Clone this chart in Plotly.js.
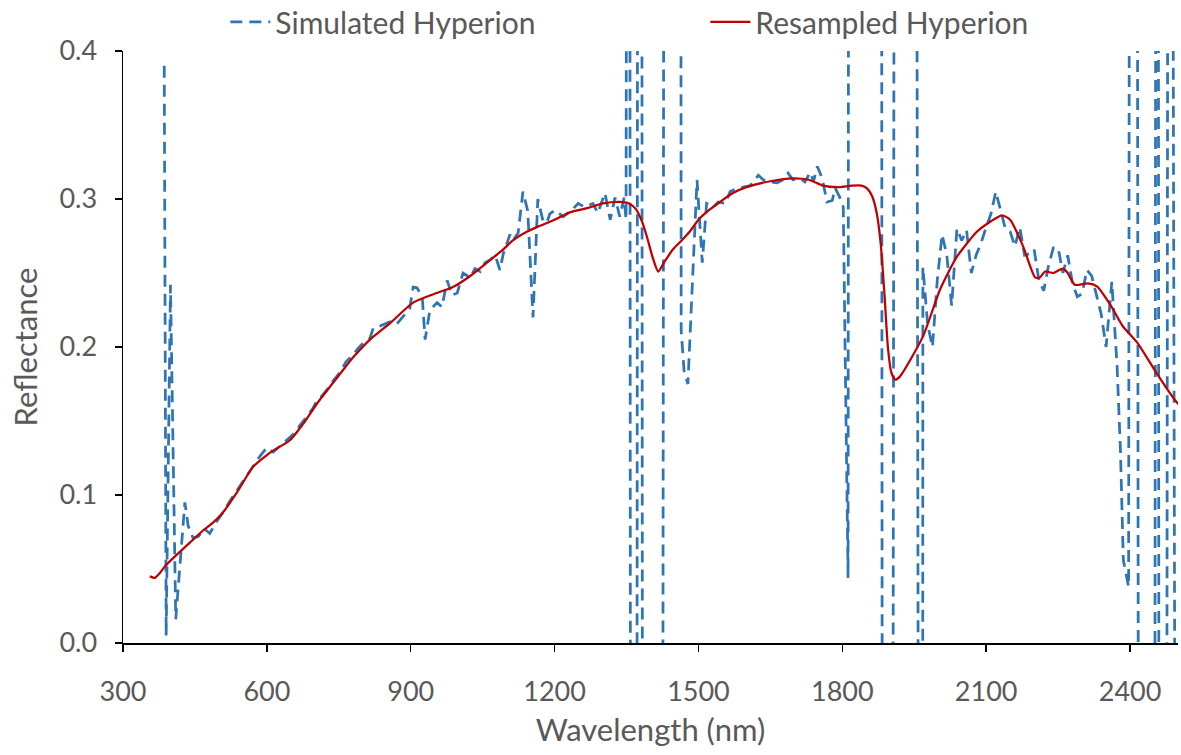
<!DOCTYPE html>
<html>
<head>
<meta charset="utf-8">
<script src="https://cdn.plot.ly/plotly-3.0.1.min.js"></script>
<style>
  html, body { margin: 0; padding: 0; background: #ffffff; }
  #chart { width: 1181px; height: 755px; }
</style>
</head>
<body>
<div id="chart"></div>
<script>
// Simulated Hyperion (dashed blue). Values beyond the axis range (water-absorption bands) are off-scale.
const simWavelength = [
  386, 390, 399, 410, 429, 436, 446, 457, 470, 481, 493, 508, 525, 544, 560, 571, 585, 600, 613, 627,
  642, 655, 669, 684, 695, 705, 715, 725, 738, 753, 765, 778, 790, 802, 815, 822, 832, 842, 857, 871,
  882, 892, 898, 905, 913, 924, 930, 940, 955, 965, 976, 986, 997, 1009, 1024, 1034, 1045, 1055, 1066, 1076,
  1086, 1093, 1107, 1113, 1124, 1134, 1144, 1155, 1165, 1176, 1184, 1190, 1201, 1218, 1236, 1249, 1263, 1280, 1290, 1305,
  1316, 1326, 1336, 1345, 1349, 1355, 1361, 1369, 1375, 1380, 1386, 1396, 1406, 1416, 1421, 1431, 1441, 1451, 1461, 1464,
  1470, 1478, 1497, 1508, 1517, 1531, 1541, 1556, 1566, 1580, 1593, 1608, 1625, 1635, 1649, 1664, 1677, 1687, 1697, 1712,
  1722, 1733, 1740, 1748, 1758, 1768, 1779, 1785, 1795, 1802, 1812, 1815, 1830, 1850, 1870, 1880, 1886, 1896, 1900, 1912,
  1922, 1932, 1942, 1950, 1966, 1968, 1978, 1988, 1998, 2008, 2018, 2028, 2039, 2049, 2059, 2069, 2079, 2089, 2099, 2110,
  2120, 2130, 2140, 2150, 2160, 2170, 2180, 2190, 2200, 2210, 2220, 2230, 2240, 2250, 2260, 2270, 2280, 2290, 2300, 2310,
  2320, 2330, 2340, 2350, 2362, 2373, 2380, 2386, 2397, 2402, 2412, 2422, 2432, 2447, 2457, 2463, 2472, 2482, 2494, 2504
];
const simReflectance = [
  0.390, 0.005, 0.242, 0.016, 0.095, 0.079, 0.071, 0.072, 0.077, 0.074, 0.081, 0.088, 0.097, 0.106, 0.114, 0.119, 0.126, 0.132, 0.129, 0.133,
  0.137, 0.141, 0.147, 0.153, 0.158, 0.164, 0.167, 0.171, 0.177, 0.183, 0.190, 0.194, 0.199, 0.203, 0.206, 0.213, 0.2135, 0.215, 0.217, 0.2155,
  0.220, 0.224, 0.226, 0.2405, 0.240, 0.234, 0.205, 0.225, 0.230, 0.227, 0.245, 0.235, 0.2365, 0.250, 0.247, 0.253, 0.251, 0.257, 0.259, 0.262,
  0.252, 0.263, 0.276, 0.272, 0.277, 0.305, 0.292, 0.220, 0.300, 0.285, 0.284, 0.290, 0.2925, 0.288, 0.2925, 0.297, 0.2945, 0.297, 0.2905, 0.304,
  0.286, 0.301, 0.288, 0.301, 0.286, 1.5, -1.5, -1.5, 1.5, 1.5, -1.5, -1.5, -1.5, -1.5, -1.5, 1.5, 1.5, 1.5, 1.5, 0.211,
  0.184, 0.175, 0.313, 0.257, 0.297, 0.2945, 0.298, 0.297, 0.305, 0.307, 0.308, 0.309, 0.316, 0.313, 0.3115, 0.311, 0.313, 0.3175, 0.313, 0.314,
  0.3115, 0.318, 0.312, 0.322, 0.314, 0.298, 0.299, 0.3075, 0.301, 0.2945, 0.044, 1.5, 1.5, 1.5, 1.5, 1.5, -1.5, -1.5, -1.5, 1.5,
  1.5, 1.5, 1.5, 1.5, -1.5, 0.254, 0.215, 0.200, 0.245, 0.276, 0.262, 0.228, 0.280, 0.272, 0.279, 0.250, 0.262, 0.270, 0.280, 0.290,
  0.305, 0.292, 0.280, 0.278, 0.268, 0.281, 0.262, 0.263, 0.266, 0.245, 0.238, 0.255, 0.267, 0.267, 0.250, 0.262, 0.243, 0.234, 0.236, 0.252,
  0.248, 0.235, 0.222, 0.200, 0.244, 0.187, 0.130, 0.056, 0.038, 1.5, 1.5, -1.5, -1.5, -1.5, 1.5, -1.5, -1.5, 1.5, -1.5, -1.5
];

// Resampled Hyperion (solid red)
const resWavelength = [
  356, 366, 376, 388, 410, 440, 467, 490, 508, 540, 571, 600, 613, 648, 680, 705, 753, 780, 815, 860,
  905, 950, 988, 1024, 1059, 1093, 1113, 1143, 1163, 1200, 1232, 1270, 1301, 1336, 1355, 1370, 1382, 1393, 1405, 1416,
  1430, 1447, 1465, 1482, 1500, 1520, 1545, 1572, 1600, 1650, 1697, 1730, 1760, 1790, 1820, 1840, 1852, 1862, 1872, 1880,
  1888, 1895, 1902, 1910, 1920, 1968, 2004, 2039, 2081, 2110, 2133, 2150, 2177, 2202, 2212, 2223, 2240, 2260, 2270, 2285,
  2312, 2331, 2360, 2385, 2415, 2456, 2494, 2505
];
const resReflectance = [
  0.045, 0.044, 0.047, 0.052, 0.059, 0.068, 0.076, 0.082, 0.088, 0.103, 0.119, 0.127, 0.130, 0.137, 0.150, 0.162, 0.182, 0.193, 0.205, 0.217,
  0.230, 0.236, 0.2405, 0.248, 0.257, 0.266, 0.272, 0.278, 0.281, 0.286, 0.291, 0.294, 0.297, 0.298, 0.297, 0.293, 0.285, 0.274, 0.260, 0.251,
  0.258, 0.266, 0.272, 0.278, 0.286, 0.292, 0.298, 0.304, 0.308, 0.312, 0.314, 0.313, 0.309, 0.308, 0.309, 0.309, 0.307, 0.302, 0.290, 0.270,
  0.235, 0.200, 0.183, 0.178, 0.180, 0.207, 0.239, 0.261, 0.278, 0.285, 0.289, 0.286, 0.268, 0.247, 0.247, 0.251, 0.250, 0.253, 0.250, 0.242,
  0.243, 0.241, 0.228, 0.214, 0.203, 0.182, 0.164, 0.160
];

const xTickValues = [300, 600, 900, 1200, 1500, 1800, 2100, 2400];
const yTickValues = [0.0, 0.1, 0.2, 0.3, 0.4];

const FONT = 'Lato, "Open Sans", sans-serif';
const GREY = '#595959';

const traces = [
  {
    x: simWavelength, y: simReflectance, type: 'scatter', mode: 'lines',
    name: 'Simulated Hyperion', legend: 'legend',
    line: { color: '#2E75B6', width: 2.75, dash: '12px,7px' },
    hoverinfo: 'x+y'
  },
  {
    x: resWavelength, y: resReflectance, type: 'scatter', mode: 'lines',
    name: 'Resampled Hyperion', legend: 'legend2',
    line: { color: '#C00000', width: 2.25, shape: 'spline', smoothing: 0.6 },
    hoverinfo: 'x+y'
  }
];

const legendBase = {
  orientation: 'h', xanchor: 'left', y: 1.049, yanchor: 'middle',
  font: { family: FONT, size: 30, color: GREY },
  itemwidth: 40,
  bgcolor: 'rgba(0,0,0,0)', borderwidth: 0
};

const layout = {
  width: 1181, height: 755,
  paper_bgcolor: '#ffffff', plot_bgcolor: '#ffffff',
  margin: { l: 123, r: 3, t: 51, b: 112, autoexpand: false },
  font: { family: FONT, color: GREY },
  showlegend: true,
  legend: Object.assign({}, legendBase, { x: 0.097 }),
  legend2: Object.assign({}, legendBase, { x: 0.552 }),
  xaxis: {
    range: [300, 2500], tickmode: 'array', tickvals: xTickValues,
    ticks: 'outside', ticklen: 7, tickwidth: 1.5, tickcolor: '#000',
    showline: true, linecolor: '#000', linewidth: 1.5,
    showgrid: false, zeroline: false, automargin: false,
    tickfont: { family: FONT, size: 27, color: GREY },
    ticklabelstandoff: 17,
    title: { text: 'Wavelength (nm)', font: { family: FONT, size: 31, color: GREY }, standoff: 13 }
  },
  yaxis: {
    range: [0, 0.4], tickmode: 'array', tickvals: yTickValues, tickformat: '.1f',
    ticks: 'outside', ticklen: 7, tickwidth: 1.5, tickcolor: '#000',
    showline: true, linecolor: '#000', linewidth: 1.5,
    showgrid: false, zeroline: false, automargin: false,
    tickfont: { family: FONT, size: 27, color: GREY },
    ticklabelstandoff: 12,
    title: { text: 'Reflectance', font: { family: FONT, size: 31, color: GREY }, standoff: 12 }
  }
};

Plotly.newPlot('chart', traces, layout, { staticPlot: true, displayModeBar: false });
</script>
</body>
</html>
